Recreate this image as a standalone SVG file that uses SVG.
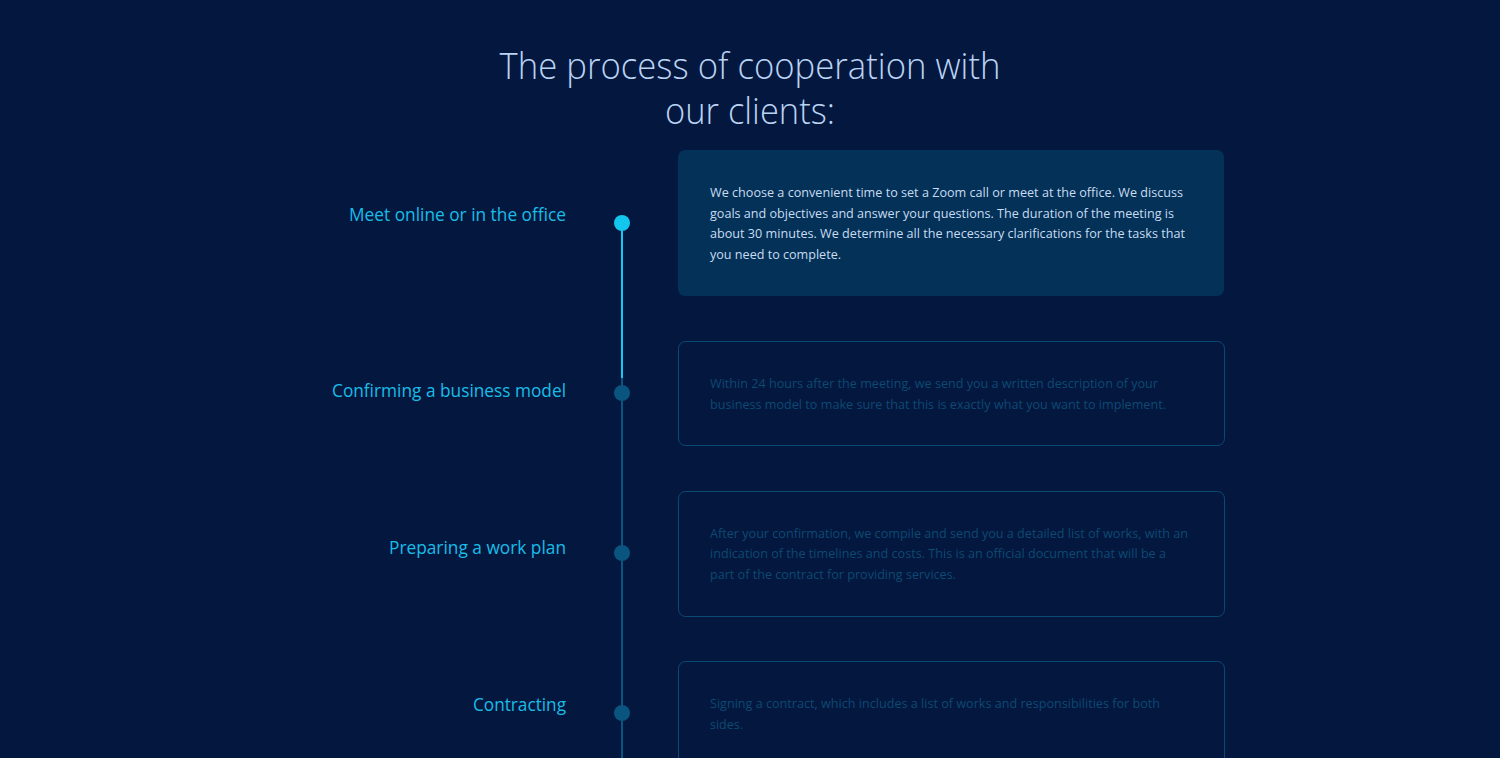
<svg xmlns="http://www.w3.org/2000/svg" width="1500" height="758" viewBox="0 0 1500 758">
<style>
.title{font-family:"Open Sans","Liberation Sans",sans-serif;font-weight:300;font-size:37px;fill:#b9d3f2;text-anchor:middle}
.label{font-family:"Open Sans","Liberation Sans",sans-serif;font-size:18px;fill:#19bde6;text-anchor:end}
.body{font-family:"Open Sans","Liberation Sans",sans-serif;font-size:13.5px}
.active{fill:#c9dcf2}
.faded{fill:#0c4a72}
.card-on{fill:#033157}
.card-off{fill:none;stroke:#0a4a72;stroke-width:1}
</style>
<rect width="1500" height="758" fill="#04173f"/>
<text class="title" x="750" y="79" textLength="501" lengthAdjust="spacingAndGlyphs">The process of cooperation with</text>
<text class="title" x="750" y="124" textLength="170" lengthAdjust="spacingAndGlyphs">our clients:</text>
<g id="connectors">
<line x1="622" y1="223" x2="622" y2="758" stroke="#0a5580" stroke-width="2"/>
<line x1="622" y1="223" x2="622" y2="378" stroke="#1ec6ef" stroke-width="2"/>
</g>
<g id="step1">
<circle cx="622" cy="223" r="8" fill="#13c6ee"/>
<text class="label" x="566" y="221" textLength="217" lengthAdjust="spacingAndGlyphs">Meet online or in the office</text>
<rect class="card-on" x="678" y="150" width="546" height="146" rx="7"/>
<text class="body active" x="710" y="197" textLength="473" lengthAdjust="spacingAndGlyphs">We choose a convenient time to set a Zoom call or meet at the office. We discuss</text>
<text class="body active" x="710" y="218" textLength="464" lengthAdjust="spacingAndGlyphs">goals and objectives and answer your questions. The duration of the meeting is</text>
<text class="body active" x="710" y="238" textLength="475" lengthAdjust="spacingAndGlyphs">about 30 minutes. We determine all the necessary clarifications for the tasks that</text>
<text class="body active" x="710" y="259" textLength="131" lengthAdjust="spacingAndGlyphs">you need to complete.</text>
</g>
<g id="step2">
<circle cx="622" cy="393" r="8" fill="#0a5580"/>
<text class="label" x="566" y="397" textLength="234" lengthAdjust="spacingAndGlyphs">Confirming a business model</text>
<rect class="card-off" x="678.5" y="341.5" width="546" height="104" rx="7"/>
<text class="body faded" x="710" y="388" textLength="448" lengthAdjust="spacingAndGlyphs">Within 24 hours after the meeting, we send you a written description of your</text>
<text class="body faded" x="710" y="409" textLength="456" lengthAdjust="spacingAndGlyphs">business model to make sure that this is exactly what you want to implement.</text>
</g>
<g id="step3">
<circle cx="622" cy="553" r="8" fill="#0a5580"/>
<text class="label" x="566" y="554" textLength="177" lengthAdjust="spacingAndGlyphs">Preparing a work plan</text>
<rect class="card-off" x="678.5" y="491.5" width="546" height="125" rx="7"/>
<text class="body faded" x="710" y="538" textLength="478" lengthAdjust="spacingAndGlyphs">After your confirmation, we compile and send you a detailed list of works, with an</text>
<text class="body faded" x="710" y="558" textLength="456" lengthAdjust="spacingAndGlyphs">indication of the timelines and costs. This is an official document that will be a</text>
<text class="body faded" x="710" y="579" textLength="246" lengthAdjust="spacingAndGlyphs">part of the contract for providing services.</text>
</g>
<g id="step4">
<circle cx="622" cy="713" r="8" fill="#0a5580"/>
<text class="label" x="566" y="711" textLength="93" lengthAdjust="spacingAndGlyphs">Contracting</text>
<rect class="card-off" x="678.5" y="661.5" width="546" height="120" rx="7"/>
<text class="body faded" x="710" y="708" textLength="450" lengthAdjust="spacingAndGlyphs">Signing a contract, which includes a list of works and responsibilities for both</text>
<text class="body faded" x="710" y="729" textLength="33" lengthAdjust="spacingAndGlyphs">sides.</text>
</g>
</svg>
